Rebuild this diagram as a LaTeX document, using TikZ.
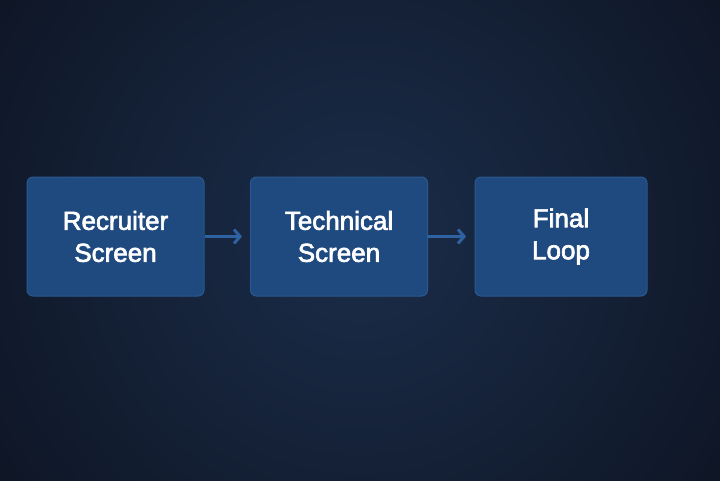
\documentclass[tikz,border=0pt]{standalone}
\usepackage{fontspec}
\setmainfont{Liberation Sans}[FakeBold=2.5]
\usetikzlibrary{arrows.meta}
\definecolor{bgouter}{HTML}{0F1727}
\definecolor{bginner}{HTML}{1B2D4A}
\definecolor{boxfill}{HTML}{1F4A80}
\definecolor{boxline}{HTML}{2A5890}
\definecolor{arrowc}{HTML}{2F62A2}
\tikzset{
  stage/.style={draw=boxline, line width=1pt, fill=boxfill, rounded corners=6pt,
    minimum width=177pt, minimum height=119pt, align=center, text=white,
    font=\fontsize{26}{32}\selectfont, inner sep=0pt},
  flow/.style={draw=arrowc, line width=3pt, -{Straight Barb[length=6pt,width=14pt,line width=3pt]}}
}
\begin{document}
\begin{tikzpicture}[x=1pt,y=-1pt]
\useasboundingbox (0,0) rectangle (720,480);
\fill[bgouter] (-5,-5) rectangle (725,485);
\shade[inner color=bginner, outer color=bgouter] (360,235) circle (420);
\node[stage] (a) at (115.5,236.5) {Recruiter\\Screen};
\node[stage] (b) at (339,236.5) {Technical\\Screen};
\node[stage, minimum width=172pt] (c) at (561,236.5) {Final\\Loop};
\coordinate (ae) at (242,236.5);
\coordinate (be) at (466,236.5);
\draw[flow] (a.east) -- (ae);
\draw[flow] (b.east) -- (be);
\end{tikzpicture}
\end{document}
